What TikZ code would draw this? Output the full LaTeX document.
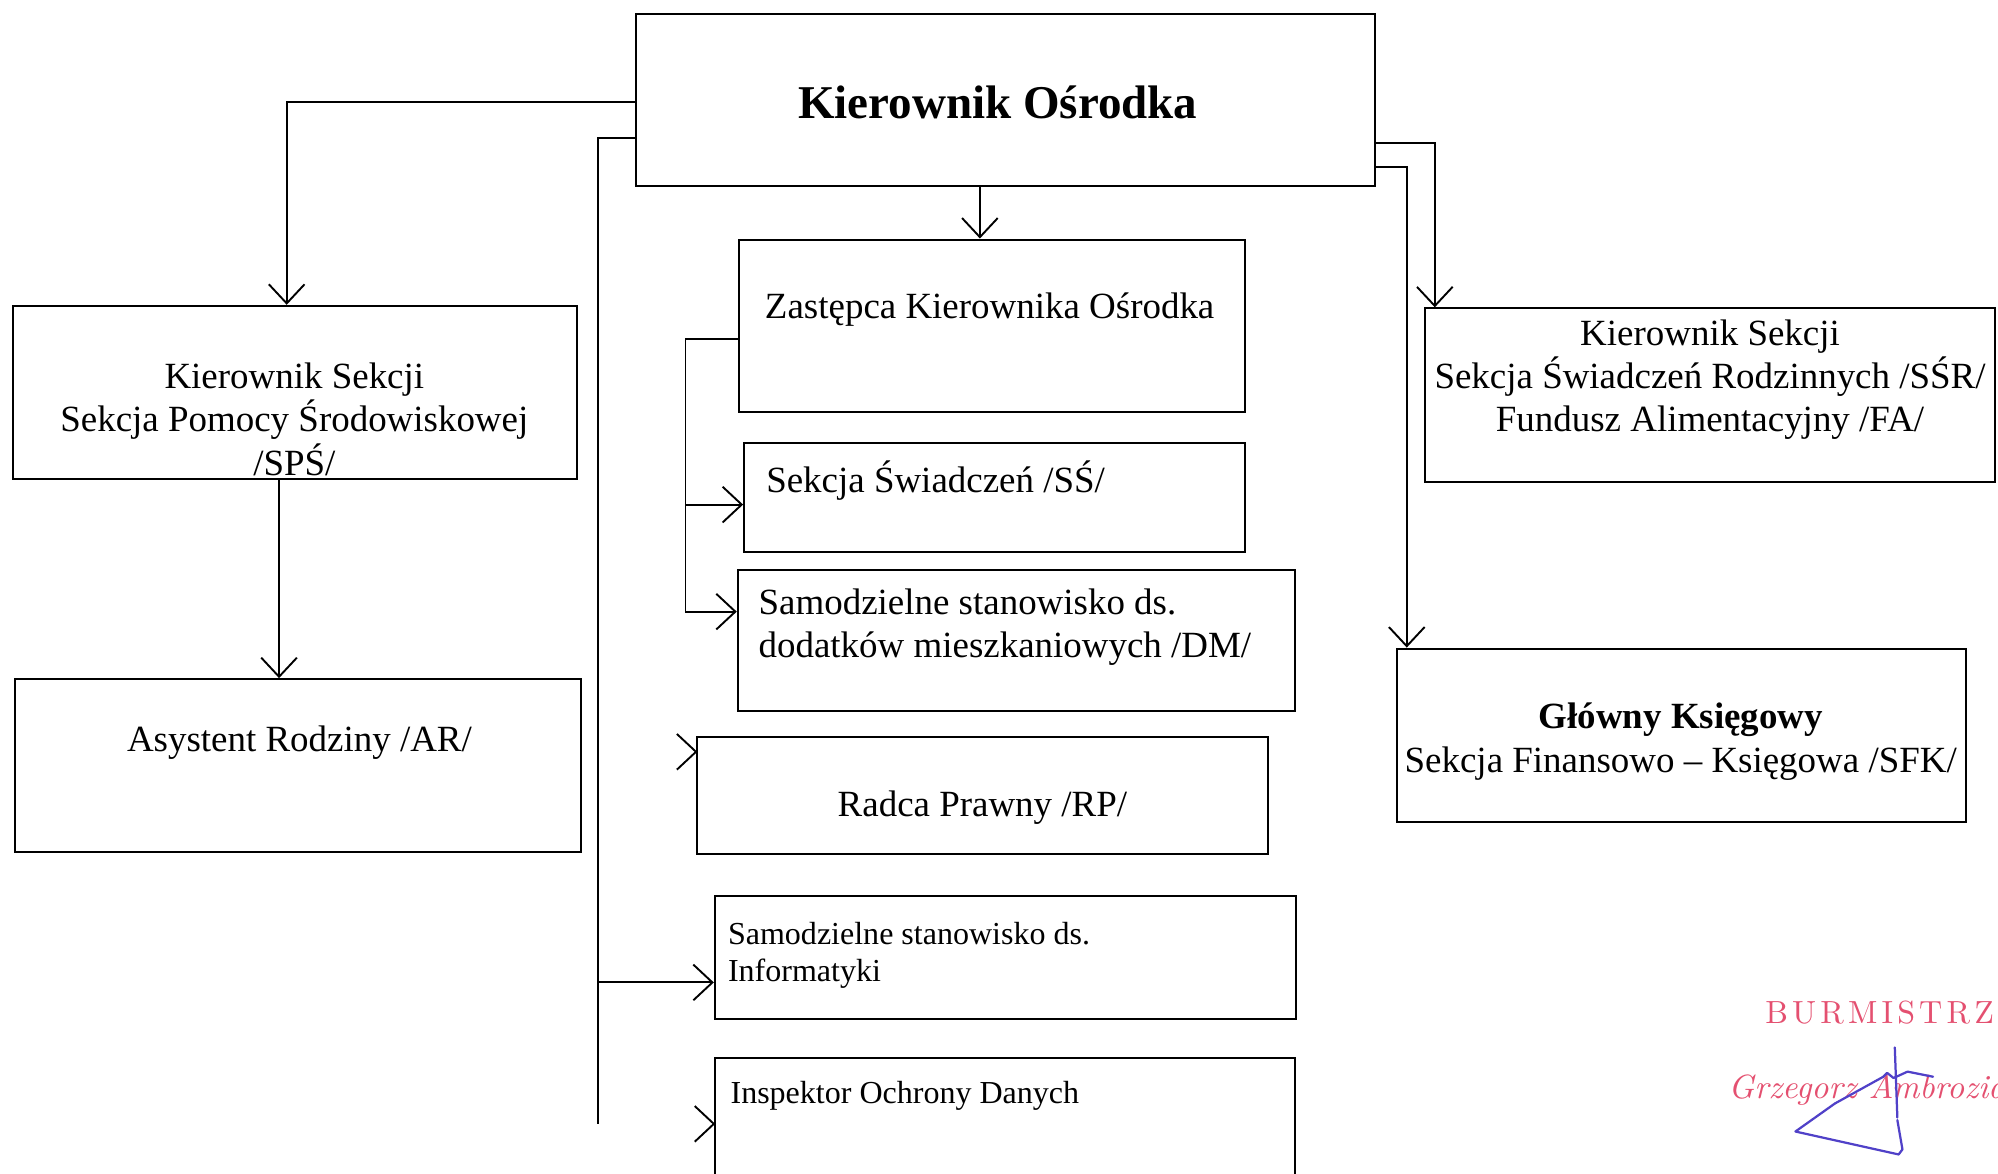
\documentclass[tikz,border=0pt]{standalone}
\usepackage{fontspec}
\setmainfont{Liberation Serif}
\newfontfamily\stampsp{lmroman10-regular.otf}[LetterSpace=13]
\newfontfamily\stampit{lmroman10-italic.otf}
\usetikzlibrary{arrows.meta,fit,calc}
\definecolor{stampred}{RGB}{228,80,112}
\definecolor{signblue}{RGB}{80,65,200}
\begin{document}
\begin{tikzpicture}[x=0.2mm,y=-0.2mm,
  box/.style={draw, line width=0.9pt, inner sep=0pt},
  conn/.style={line width=0.85pt},
  arr/.style={conn, -{Straight Barb[length=3mm,width=5.6mm]}},
  txt/.style={inner sep=0pt, font=\fontsize{16.5}{19.4}\selectfont},
  stxt/.style={inner sep=0pt, font=\fontsize{14.3}{16.6}\selectfont},
  ttl/.style={inner sep=0pt, font=\bfseries\fontsize{21}{25}\selectfont},
  sign/.style={signblue, line width=1pt, line join=round, line cap=round}
]
\useasboundingbox (0,0) rectangle (1568,921);
\clip (0,0) rectangle (1568,921);

% boxes
\node[box, fit={(499,11) (1079,146)}] (ko) {};
\node[box, fit={(580,188) (977,323)}] (zast) {};
\node[box, fit={(10,240) (453,376)}] (sps) {};
\node[box, fit={(12,533) (456,669)}] (ar) {};
\node[box, fit={(584,348) (977,433)}] (ss) {};
\node[box, fit={(579,447) (1016,558)}] (dm) {};
\node[box, fit={(547,578) (995,670)}] (rp) {};
\node[box, fit={(561,703) (1017,800)}] (inf) {};
\node[box, fit={(561,830) (1016,950)}] (iod) {};
\node[box, fit={(1118,242) (1566,378)}] (ssr) {};
\node[box, fit={(1096,509) (1543,645)}] (gk) {};

% helper coordinates
\coordinate (h80) at (0,80);
\coordinate (h108) at (0,108);
\coordinate (h112) at (0,112);
\coordinate (h131) at (0,131);
\coordinate (h266) at (0,266);
\coordinate (h396) at (0,396);
\coordinate (h480) at (0,480);
\coordinate (h590) at (0,590);
\coordinate (h771) at (0,771);
\coordinate (h882) at (0,882);
\coordinate (v769) at (769,0);
\coordinate (v225) at (225,0);
\coordinate (v219) at (219,0);
\coordinate (v538) at (538,0);
\coordinate (v1126) at (1126,0);
\coordinate (v1104) at (1104,0);
\coordinate (vend) at (469,882);

% connectors
\draw[arr] (ko.south -| v769) -- (zast.north -| v769);
\draw[arr] (ko.west |- h80) -| (sps.north -| v225);
\draw[arr] (sps.south -| v219) -- (ar.north -| v219);
\draw[conn] (ko.west |- h108) -| (vend);
\draw[arr] (vend |- h771) -- (inf.west |- h771);
\draw[arr] (zast.west |- h266) -| (v538 |- h480) -- (dm.west |- h480);
\draw[arr] (v538 |- h396) -- (ss.west |- h396);
\draw[arr] (ko.east |- h112) -| (ssr.north -| v1126);
\draw[arr] (ko.east |- h131) -| (gk.north -| v1104);
% lone arrowheads
\coordinate (rptip) at (rp.west |- h590);
\coordinate (iodtip) at (iod.west |- h882);
\draw[conn] ($(rptip)+(-15,-14)$) -- (rptip) -- ($(rptip)+(-15,14)$);
\draw[conn] ($(iodtip)+(-15,-14)$) -- (iodtip) -- ($(iodtip)+(-15,14)$);

% texts
\node[ttl] (tko) at (783,80) {Kierownik Ośrodka};
\node[txt, anchor=west] (tzast) at (600,243) {Zastępca Kierownika Ośrodka};
\node[txt, align=center] (tsps) at (231,329) {Kierownik Sekcji\\Sekcja Pomocy Środowiskowej\\/SPŚ/};
\node[txt] (tar) at (235,583) {Asystent Rodziny /AR/};
\node[txt, anchor=west] (tss) at (601,377) {Sekcja Świadczeń /SŚ/};
\node[txt, anchor=west, align=left] (tdm) at (595,492) {Samodzielne stanowisko ds.\\dodatków mieszkaniowych /DM/};
\node[txt] (trp) at (771,634) {Radca Prawny /RP/};
\node[stxt, anchor=west, align=left] (tinf) at (571,750) {Samodzielne stanowisko ds.\\Informatyki};
\node[stxt, anchor=west] (tiod) at (573,860) {Inspektor Ochrony Danych};
\node[txt, align=center] (tssr) at (1342,298) {Kierownik Sekcji\\Sekcja Świadczeń Rodzinnych /SŚR/\\Fundusz Alimentacyjny /FA/};
\node[txt, align=center] (tgk) at (1319,582) {\textbf{Główny Księgowy}\\Sekcja Finansowo – Księgowa /SFK/};

% stamp
\node[inner sep=0pt, anchor=base west, text=stampred, font=\stampsp\fontsize{14.3}{17}\selectfont] (burm) at (1385,803) {BURMISTRZ};
\node[inner sep=0pt, anchor=base west, text=stampred, font=\stampit\fontsize{15}{18}\selectfont] (gname) at (1356,862) {Grzegorz Ambroziak};
\draw[sign] (1487,822) -- (1489,877);
\draw[sign] (1440,866) -- (1478,845) -- (1481,842) -- (1486,846) -- (1497,841) -- (1517,845);
\draw[sign] (1440,866) -- (1409,888) -- (1490,906) -- (1493,902) -- (1489,879);
\end{tikzpicture}
\end{document}
